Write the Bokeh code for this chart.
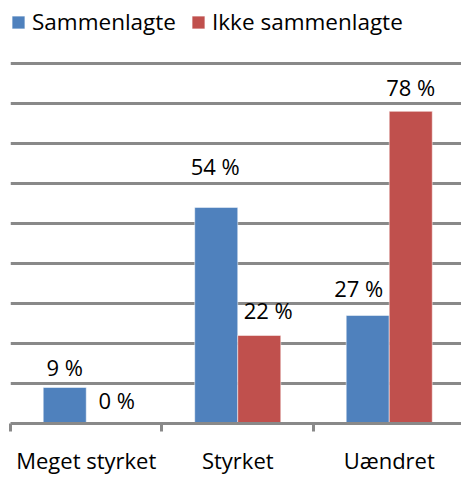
from bokeh.plotting import figure
from bokeh.models import (ColumnDataSource, LinearAxis, FixedTicker, Grid, Legend,
                          LegendItem, LabelSet, Range1d)
from bokeh.core.properties import value
from bokeh.embed import file_html
from bokeh.resources import INLINE

categories = ["Meget styrket", "Styrket", "Uændret"]
series_names = ["Sammenlagte", "Ikke sammenlagte"]
sammenlagte = [9, 54, 27]
ikke_sammenlagte = [0, 22, 78]
grid_ticks = [10, 20, 30, 40, 50, 60, 70, 80, 90]

# label nudges (screen px), style only
blue_dx = [0, -1, -9]
blue_dy = [11, 32, 18]
red_dx = [9, 9, 0]
red_dy = [15, 16, 15]

COLORS = ["#4F81BD", "#C0504D"]
GRAY = "#898989"
FONT = "Open Sans"
BW = 0.284

p = figure(width=461, height=477,
           x_range=Range1d(-0.5, 2.477), y_range=Range1d(0, 104.2),
           x_axis_type=None, y_axis_type=None,
           output_backend="svg", toolbar_location=None,
           min_border_left=10, min_border_right=0, min_border_top=6,
           min_border_bottom=52)
p.outline_line_color = None
p.background_fill_color = "white"
p.border_fill_color = "white"

idx = list(range(len(categories)))

grid = Grid(dimension=1, ticker=FixedTicker(ticks=grid_ticks),
            grid_line_color=GRAY, grid_line_width=3)
p.add_layout(grid)

src_a = ColumnDataSource(dict(
    x=[i - BW / 2 for i in idx], top=sammenlagte,
    text=[f"{v} %" for v in sammenlagte], dx=blue_dx, dy=blue_dy))
src_b = ColumnDataSource(dict(
    x=[i + BW / 2 for i in idx], top=ikke_sammenlagte,
    text=[f"{v} %" for v in ikke_sammenlagte], dx=red_dx, dy=red_dy))

r1 = p.vbar(x="x", top="top", bottom=0, width=BW, source=src_a,
            fill_color=COLORS[0], line_color="white", line_alpha=0.5, line_width=1)
r2 = p.vbar(x="x", top="top", bottom=0, width=BW, source=src_b,
            fill_color=COLORS[1], line_color="white", line_alpha=0.5, line_width=1)

xa = LinearAxis(ticker=FixedTicker(ticks=idx, minor_ticks=[-0.5, 0.5, 1.5, 2.5]),
                major_label_overrides={i: c for i, c in zip(idx, categories)},
                axis_line_color=GRAY, axis_line_width=3,
                major_tick_line_color=None, major_tick_out=0, major_tick_in=0,
                minor_tick_line_color=GRAY, minor_tick_line_width=3,
                minor_tick_out=8, minor_tick_in=0,
                major_label_standoff=13,
                major_label_text_font=FONT, major_label_text_font_size="22px",
                major_label_text_color="#000000")
p.add_layout(xa, "below")

for src in (src_a, src_b):
    p.add_layout(LabelSet(x="x", y="top", text="text", source=src,
                          x_offset="dx", y_offset="dy",
                          text_align="center", text_baseline="alphabetic",
                          text_font=value(FONT), text_font_size=value("22px"),
                          text_color="#000000"))

legend = Legend(items=[LegendItem(label=series_names[0], renderers=[r1]),
                       LegendItem(label=series_names[1], renderers=[r2])],
                location="top_left", orientation="horizontal",
                background_fill_alpha=0, border_line_color=None,
                margin=0, padding=2, spacing=14, label_standoff=6,
                glyph_width=16, glyph_height=16,
                label_text_font=FONT, label_text_font_size="22.5px",
                label_text_color="#000000")
p.add_layout(legend)

open("out.html", "w").write(file_html(p, INLINE))
